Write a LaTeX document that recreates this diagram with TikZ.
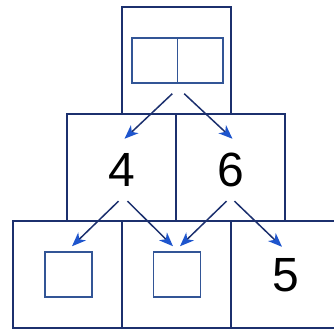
\documentclass[tikz,border=0pt]{standalone}
\usepackage{fontspec}
\setmainfont{Liberation Sans}
\usetikzlibrary{arrows.meta}
\definecolor{boxblue}{RGB}{28,48,110}
\definecolor{slotblue}{RGB}{50,85,150}
\definecolor{tipblue}{RGB}{30,85,205}
\begin{document}
\begin{tikzpicture}[x=1pt, y=1pt,
    cell/.style={draw=boxblue, line width=2pt, minimum width=109pt, minimum height=107pt, inner sep=0pt},
    slot/.style={draw=slotblue, line width=1.5pt, minimum width=47pt, minimum height=45pt, inner sep=0pt},
    num/.style={font=\fontsize{48}{48}\selectfont, minimum height=62pt, inner sep=0pt},
    arr/.style={draw=boxblue, line width=1.5pt, -{Stealth[length=14pt, width=11pt, inset=4pt, color=tipblue, fill=tipblue]}}]
    \useasboundingbox (0,0) rectangle (334,331);

    % 1. 格子
    \node[cell] (top)  at (176,270)   {};
    \node[cell] (midL) at (121.5,163) {};
    \node[cell] (midR) at (230.5,163) {};
    \node[cell] (botL) at (67,56)     {};
    \node[cell] (botM) at (176,56)    {};
    \node[cell] (botR) at (285,56)    {};

    % 2. 空格
    \node[slot, minimum width=45.5pt] (pairL) at (154.75,270.5) {};
    \node[slot, minimum width=45.5pt] (pairR) at (200.25,270.5) {};
    \node[slot] (slotL) at (68.5,56.5) {};
    \node[slot] (slotM) at (177,56.5)  {};

    % 3. 数字
    \node[num] (n4) at (121.5,161) {4};
    \node[num] (n6) at (230.5,161) {6};
    \node[num] (n5) at (286,56)    {5};

    % 4. 箭头
    \draw[arr] ([shift={(-6,-10)}]pairL.south east) -- ([xshift=3pt]n4.north);
    \draw[arr] ([shift={(6,-10)}]pairL.south east) -- ([xshift=2pt]n6.north);
    \draw[arr] ([xshift=-3pt]n4.south) -- ([shift={(3.5,5)}]slotL.north);
    \draw[arr] ([xshift=6pt]n4.south) -- ([shift={(-4,5)}]slotM.north);
    \draw[arr] ([xshift=-4pt]n6.south) -- ([shift={(3,5)}]slotM.north);
    \draw[arr] ([xshift=4pt]n6.south) -- ([shift={(-4,-3)}]n5.north);
\end{tikzpicture}
\end{document}
